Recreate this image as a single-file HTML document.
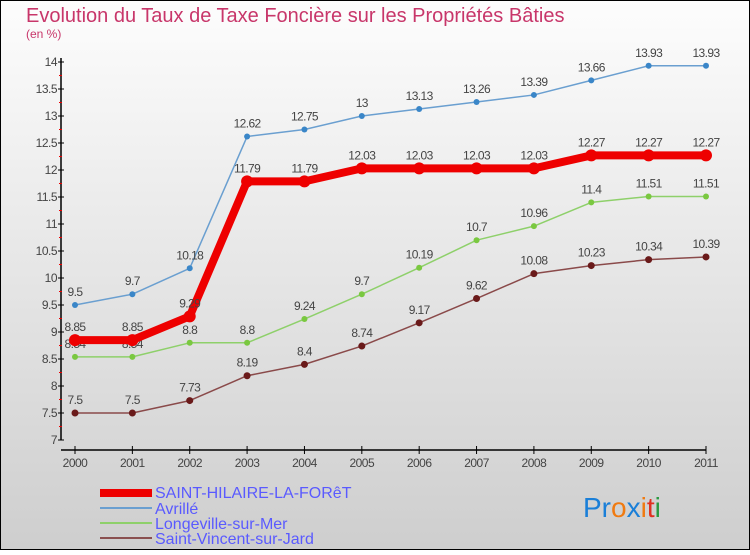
<!DOCTYPE html>
<html><head><meta charset="utf-8"><style>
body{margin:0;width:750px;height:550px;overflow:hidden;font-family:"Liberation Sans",sans-serif}
</style></head><body>
<svg width="750" height="550" xmlns="http://www.w3.org/2000/svg">
<defs><linearGradient id="bg" x1="0" y1="0" x2="0" y2="1"><stop offset="0" stop-color="#fdfdfd"/><stop offset="1" stop-color="#cecece"/></linearGradient></defs>
<rect x="0.5" y="0.5" width="749" height="549" fill="url(#bg)" stroke="#000"/>
<text x="26" y="22" font-size="20" fill="#c8366a">Evolution du Taux de Taxe Foncière sur les Propriétés Bâties</text>
<text x="26" y="38" font-size="12" fill="#c8366a">(en %)</text>
<g id="axes"></g><g id="series"></g>
<g>
<rect x="100" y="489" width="52" height="8" fill="#e00"/>
<text x="155" y="498" font-size="16" fill="#5a5aff">SAINT-HILAIRE-LA-FORêT</text>
<line x1="100" y1="508" x2="152" y2="508" stroke="#6a9fd0" stroke-width="2"/>
<text x="155" y="514" font-size="16" fill="#5a5aff">Avrillé</text>
<line x1="100" y1="523" x2="152" y2="523" stroke="#8ed06a" stroke-width="2"/>
<text x="155" y="529" font-size="16" fill="#5a5aff">Longeville-sur-Mer</text>
<line x1="100" y1="538" x2="152" y2="538" stroke="#8a5050" stroke-width="2"/>
<text x="155" y="544" font-size="16" fill="#5a5aff">Saint-Vincent-sur-Jard</text>
</g>
<g font-size="28" font-family="Liberation Sans,sans-serif">
<text x="583" y="517"><tspan fill="#1a7fd8">Pr</tspan><tspan fill="#f07a10">o</tspan><tspan fill="#1a7fd8">x</tspan><tspan fill="#f07a10">i</tspan><tspan fill="#e03020">t</tspan><tspan fill="#2a9a40">i</tspan></text>
</g>
</svg>
<script>
const years=[2000,2001,2002,2003,2004,2005,2006,2007,2008,2009,2010,2011];
const yTicks=[7,7.5,8,8.5,9,9.5,10,10.5,11,11.5,12,12.5,13,13.5,14];
const sSaintHilaire=[8.85,8.85,9.29,11.79,11.79,12.03,12.03,12.03,12.03,12.27,12.27,12.27];
const sAvrille=[9.5,9.7,10.18,12.62,12.75,13,13.13,13.26,13.39,13.66,13.93,13.93];
const sLongeville=[8.54,8.54,8.8,8.8,9.24,9.7,10.19,10.7,10.96,11.4,11.51,11.51];
const sSaintVincent=[7.5,7.5,7.73,8.19,8.4,8.74,9.17,9.62,10.08,10.23,10.34,10.39];
const NS="http://www.w3.org/2000/svg";
const X=i=>75+i*(706-75)/(years.length-1);
const Y=v=>440-(v-7)*(440-62)/7;
function mk(t,a,p){const e=document.createElementNS(NS,t);for(const k in a)e.setAttribute(k,a[k]);p.appendChild(e);return e;}
const ax=document.getElementById('axes');
mk('line',{x1:61,y1:58,x2:61,y2:440,stroke:'#000','stroke-width':1.5},ax);
mk('line',{x1:61,y1:450,x2:706,y2:450,stroke:'#000','stroke-width':1.5},ax);
yTicks.forEach(v=>{
 mk('line',{x1:58,y1:Y(v),x2:64,y2:Y(v),stroke:'#000'},ax);
 if(v<14)mk('line',{x1:59,y1:Y(v+0.25),x2:62,y2:Y(v+0.25),stroke:'#e00'},ax);
 const t=mk('text',{x:57,y:Y(v)+4,'text-anchor':'end','font-size':12,fill:'#444','letter-spacing':'-0.5'},ax);
 t.textContent=String(v);
 
 
});
years.forEach((yr,i)=>{
 mk('line',{x1:X(i),y1:446,x2:X(i),y2:454,stroke:'#000'},ax);
 const t=mk('text',{x:X(i),y:467,'text-anchor':'middle','font-size':12,fill:'#444','letter-spacing':'-0.5'},ax);
 t.textContent=yr;
 
 
});
const sg=document.getElementById('series');
function draw(vals,color,w,r,name,dot){
 const g=mk('g',{},sg);
 
 
 mk('polyline',{points:vals.map((v,i)=>X(i)+','+Y(v)).join(' '),fill:'none',stroke:color,'stroke-width':w,'stroke-linejoin':'round'},g);
 vals.forEach((v,i)=>{
  const c=mk('circle',{cx:X(i),cy:Y(v),r:r,fill:dot},g);
  
  
  const t=mk('text',{x:X(i),y:Y(v)-9,'text-anchor':'middle','font-size':12,fill:'#444','letter-spacing':'-0.6'},g);
  t.textContent=String(v);
  
  
 });
}
draw(sAvrille,'#6a9fd0',1.5,3,'series-avrille','#3a86c8');
draw(sSaintVincent,'#8a4a4a',1.5,3.5,'series-saint-vincent','#6a1a1a');
draw(sLongeville,'#8ed06a',1.5,3,'series-longeville','#7ac840');
draw(sSaintHilaire,'#e00',8,6,'series-saint-hilaire','#e00');
</script>
</body></html>
